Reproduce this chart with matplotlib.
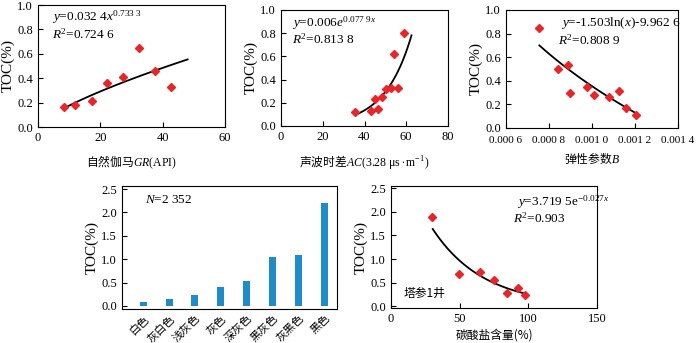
import numpy as np
import matplotlib
matplotlib.use('Agg')
import matplotlib.pyplot as plt

plt.rcParams['font.family'] = ['Liberation Serif', 'Noto Sans CJK SC']
plt.rcParams['mathtext.fontset'] = 'custom'
plt.rcParams['mathtext.rm'] = 'Liberation Serif'
plt.rcParams['mathtext.it'] = 'Liberation Serif:italic'
plt.rcParams['xtick.direction'] = 'in'
plt.rcParams['ytick.direction'] = 'in'
plt.rcParams['xtick.labelsize'] = 9
plt.rcParams['ytick.labelsize'] = 9
plt.rcParams['axes.linewidth'] = 0.8

cjk = ['Noto Sans CJK SC', 'Liberation Serif']
red = '#e8262a'
blue = '#1f8bc9'

# panel 1: GR vs TOC
gr = [8.2, 12.0, 17.2, 22.1, 27.3, 32.3, 37.6, 42.6]
toc_gr = [0.16, 0.18, 0.21, 0.36, 0.41, 0.65, 0.46, 0.33]
gr_fit = (0.0324, 0.7333)
gr_rng = (8.2, 48)

# panel 2: AC vs TOC
ac = [35.5, 42.9, 45.0, 46.3, 48.3, 50.2, 52.6, 56.1, 54.2, 58.8]
toc_ac = [0.12, 0.13, 0.23, 0.15, 0.25, 0.32, 0.33, 0.33, 0.62, 0.80]
ac_fit = (0.006, 0.0779)
ac_rng = (36.2, 62.5)

# panel 3: brittleness B vs TOC
bb = [0.000755, 0.000842, 0.000888, 0.000898, 0.000977, 0.00101, 0.001077, 0.001127, 0.001158, 0.001205]
toc_b = [0.85, 0.50, 0.53, 0.30, 0.35, 0.28, 0.26, 0.31, 0.17, 0.11]
b_fit = (-1.23, -8.142)
b_rng = (0.000755, 0.00121)

# panel 4: colour vs TOC
colors = ['白色', '灰白色', '浅灰色', '灰色', '深灰色', '黑灰色', '灰黑色', '黑色']
toc_col = [0.09, 0.14, 0.24, 0.41, 0.54, 1.05, 1.08, 2.2]

# panel 5: carbonate vs TOC
carb = [29.9, 49.6, 64.7, 74.7, 84.7, 92.5, 97.6]
toc_carb = [1.89, 0.69, 0.73, 0.56, 0.28, 0.38, 0.23]
carb_fit = (3.7195, -0.027)
carb_rng = (30.4, 96.4)

W, H = 700, 343
fig = plt.figure(figsize=(7, 3.43), dpi=100)

def add_ax(l, r, t, b):
    return fig.add_axes([l / W, 1 - b / H, (r - l) / W, (b - t) / H])

ax1 = add_ax(38, 225, 5, 127)
ax2 = add_ax(281, 448, 10, 126)
ax3 = add_ax(506, 678, 10, 128)
ax4 = add_ax(122, 337, 186, 309)
ax5 = add_ax(391, 597, 186, 308)

def scatter(ax, x, y):
    ax.plot(x, y, 'D', color=red, ms=4.5, mec=red, zorder=3)

def ylab(ax):
    ax.set_ylabel('TOC(%)', fontsize=11, labelpad=2)

# 1
scatter(ax1, gr, toc_gr)
xs = np.linspace(*gr_rng, 100)
ax1.plot(xs, gr_fit[0] * xs ** gr_fit[1], color='black', lw=1.3)
ax1.set_xlim(0, 60)
ax1.set_ylim(0, 1.0)
ax1.set_xticks([0, 20, 40, 60])
ax1.set_yticks(np.arange(0, 1.01, 0.2))
ylab(ax1)
ax1.set_xlabel('自然伽马$GR\\mathrm{(API)}$', fontsize=8.5, family='Noto Sans CJK SC', labelpad=7)
ax1.text(0.075, 0.9, '$y$=0.032 4$x^{0.733\\ 3}$', transform=ax1.transAxes, fontsize=9.5, va='center')
ax1.text(0.075, 0.76, '$R^2$=0.724 6', transform=ax1.transAxes, fontsize=9.5, va='center')

# 2
scatter(ax2, ac, toc_ac)
xs = np.linspace(*ac_rng, 100)
ax2.plot(xs, ac_fit[0] * np.exp(ac_fit[1] * xs), color='black', lw=1.3)
ax2.set_xlim(0, 80)
ax2.set_ylim(0, 1.0)
ax2.set_xticks([0, 20, 40, 60, 80])
ax2.set_yticks(np.arange(0, 1.01, 0.2))
ylab(ax2)
ax2.set_xlabel('声波时差$AC\\mathrm{(3.28\\ \\mu s\\bullet m^{-1})}$', fontsize=8.5, family='Noto Sans CJK SC', labelpad=7)
ax2.text(0.066, 0.89, '$y$=0.006$e^{0.077\\ 9x}$', transform=ax2.transAxes, fontsize=9.5, va='center')
ax2.text(0.066, 0.75, '$R^2$=0.813 8', transform=ax2.transAxes, fontsize=9.5, va='center')

# 3
scatter(ax3, bb, toc_b)
xs = np.linspace(*b_rng, 100)
ax3.plot(xs, b_fit[0] * np.log(xs) + b_fit[1], color='black', lw=1.3)
ax3.set_xlim(0.0006, 0.0014)
ax3.set_ylim(0, 1.0)
ax3.set_xticks([0.0006, 0.0008, 0.0010, 0.0012, 0.0014])
ax3.set_xticklabels(['0.000 6', '0.000 8', '0.001 0', '0.001 2', '0.001 4'], fontsize=8)
ax3.tick_params(axis='x', pad=6)
ax3.set_yticks(np.arange(0, 1.01, 0.2))
ylab(ax3)
ax3.set_xlabel('弹性参数$B$', fontsize=8.5, family='Noto Sans CJK SC', labelpad=5)
ax3.text(0.32, 0.89, '$y$=-1.503ln($x$)-9.962 6', transform=ax3.transAxes, fontsize=9.5, va='center')
ax3.text(0.30, 0.745, '$R^2$=0.808 9', transform=ax3.transAxes, fontsize=9.5, va='center')

# 4
pos = np.arange(len(colors))
ax4.bar(pos, toc_col, width=0.27, color=blue)
ax4.set_xlim(-0.82, 7.49)
ax4.set_ylim(-0.065, 2.565)
ax4.set_yticks(np.arange(0, 2.51, 0.5))
ax4.set_xticks(pos)
ax4.set_xticklabels(colors, rotation=45, ha='right', rotation_mode='anchor', family=cjk, fontsize=8)
ax4.tick_params(axis='x', length=0, pad=3)
ylab(ax4)
ax4.text(0.107, 0.89, '$N$=2 352', transform=ax4.transAxes, fontsize=9.5, va='center')

# 5
scatter(ax5, carb, toc_carb)
xs = np.linspace(*carb_rng, 100)
ax5.plot(xs, carb_fit[0] * np.exp(carb_fit[1] * xs), color='black', lw=1.3)
ax5.set_xlim(0, 150)
ax5.set_ylim(-0.04, 2.55)
ax5.set_xticks([0, 50, 100, 150])
ax5.set_yticks(np.arange(0, 2.51, 0.5))
ylab(ax5)
ax5.set_xlabel('碳酸盐含量(%)', fontsize=8.5, family=cjk, labelpad=3)
ax5.text(0.61, 0.87, '$y$=3.719 5e$^{-0.027x}$', transform=ax5.transAxes, fontsize=9.5, va='center')
ax5.text(0.59, 0.735, '$R^2$=0.903', transform=ax5.transAxes, fontsize=9.5, va='center')
ax5.text(0.06, 0.12, '塔参1井', transform=ax5.transAxes, fontsize=8.5, family=cjk, va='center')

fig.savefig('out.png', dpi=100)
